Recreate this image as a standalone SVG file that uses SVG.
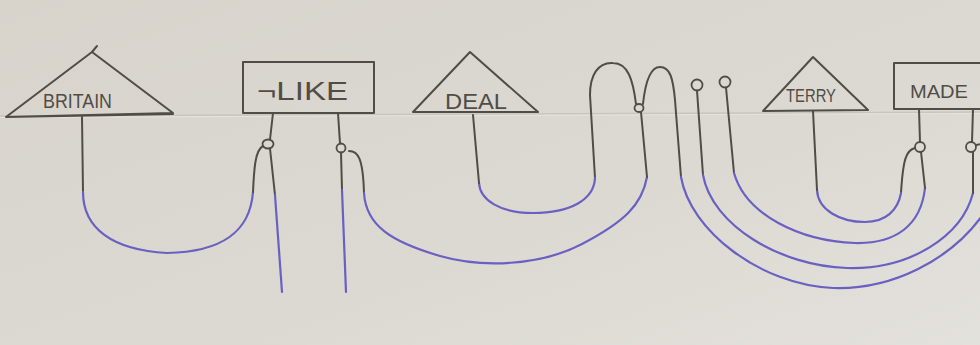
<svg xmlns="http://www.w3.org/2000/svg" width="980" height="345" viewBox="0 0 980 345">
<defs>
<linearGradient id="paper" x1="0" y1="0" x2="1" y2="1">
<stop offset="0" stop-color="#d8d4cc"/>
<stop offset="0.6" stop-color="#dcd9d2"/>
<stop offset="1" stop-color="#e3e1dc"/>
</linearGradient>
<style>
.pencil{fill:none;stroke:#514c47;stroke-width:2;stroke-linecap:round;stroke-linejoin:round}
.pen{fill:none;stroke:#6a60c2;stroke-width:2.2;stroke-linecap:round;stroke-linejoin:round}
.ring{fill:none;stroke:#514c47;stroke-width:1.8}
.lbl{font-family:"Liberation Sans","DejaVu Sans",sans-serif;fill:#514c47;font-weight:normal}
</style>
</defs>
<rect x="0" y="0" width="980" height="345" fill="url(#paper)"/>
<path d="M0,116 L980,112" stroke="#c9c5be" stroke-width="1.5" fill="none"/>
<path d="M0,117.5 L980,113.5" stroke="#e6e3de" stroke-width="1" fill="none"/>

<g id="britain">
<path class="pencil" d="M6,117 L92,52 L173,113 Z M6,117 L173,114"/>
<path class="pencil" d="M92,52 L97,46"/>
<text class="lbl" x="43" y="108" font-size="21" textLength="69" lengthAdjust="spacingAndGlyphs">BRITAIN</text>
</g>

<g id="not-like">
<rect class="pencil" x="243" y="62" width="131" height="51"/>
<text class="lbl" x="257" y="100" font-size="25" textLength="91" lengthAdjust="spacingAndGlyphs">¬LIKE</text>
</g>

<g id="deal">
<path class="pencil" d="M413,112 L470,52 L538,112 Z"/>
<text class="lbl" x="445" y="109" font-size="22" textLength="62" lengthAdjust="spacingAndGlyphs">DEAL</text>
</g>

<g id="terry">
<path class="pencil" d="M763,111 L813,57 L868,110 Z"/>
<text class="lbl" x="786" y="102" font-size="18" textLength="50" lengthAdjust="spacingAndGlyphs">TERRY</text>
</g>

<g id="made">
<path class="pencil" d="M984,63 L894,63 L894,109 L984,109"/>
<text class="lbl" x="910" y="98" font-size="19" textLength="58" lengthAdjust="spacingAndGlyphs">MADE</text>
</g>

<g id="connectors">
<path class="pencil" d="M82,117 L83,192"/>
<path class="pen" d="M83,192 C83,228 112,250 167,253 C222,252 250,232 253,192"/>
<path class="pencil" d="M253,192 C254,170 255,150 263,146"/>
<ellipse class="ring" cx="268" cy="144" rx="5.5" ry="4.5"/>
<path class="pencil" d="M273,113 L270,139.5"/>
<path class="pencil" d="M270,148.5 L275,195"/>
<path class="pen" d="M275,195 L282,292"/>
<path class="pencil" d="M338,113 L340,143.5"/>
<circle class="ring" cx="341" cy="148" r="4.5"/>
<path class="pencil" d="M341,152.5 L342,190"/>
<path class="pen" d="M342,190 L346,292"/>
<path class="pencil" d="M349,151 C358,151 363,158 364,193"/>
<path class="pen" d="M364,193 C366,226 392,242 440,256 C482,268 540,266 582,244 C624,222 642,205 647,177"/>
<path class="pencil" d="M647,177 L641,112"/>
<ellipse class="ring" cx="639" cy="108" rx="4.5" ry="4"/>
<path class="pencil" d="M636,104 C633,80 628,63 613,63 C598,62 590,75 590,95 L595,178"/>
<path class="pen" d="M595,178 C594,200 570,213 533,213 C500,213 480,200 479,183"/>
<path class="pencil" d="M479,183 L473,115"/>
<path class="pencil" d="M643,104 C645,85 650,67 660,67 C670,67 673,78 675,100 L681,177"/>
<path class="pen" d="M681,177 C690,230 760,285 833,288 C892,290 950,260 982,216"/>
<circle class="ring" cx="697" cy="85" r="5.5"/>
<path class="pencil" d="M697,90.5 L703,175"/>
<path class="pen" d="M703,175 C712,225 780,266 847,268 C910,270 962,236 973,193"/>
<path class="pencil" d="M973,193 L973,152"/>
<ellipse class="ring" cx="971" cy="147" rx="5" ry="5"/>
<path class="pencil" d="M972,142 L973,109"/>
<path class="pencil" d="M976,145 L981,144"/>
<circle class="ring" cx="725" cy="82" r="5.5"/>
<path class="pencil" d="M726,87.5 L734,173"/>
<path class="pen" d="M734,173 C746,215 800,241 855,243 C896,244 921,225 925,188"/>
<path class="pencil" d="M925,188 L921,152"/>
<ellipse class="ring" cx="920" cy="147" rx="5" ry="5"/>
<path class="pencil" d="M920,142 L919,109"/>
<path class="pencil" d="M915,148 C906,150 903,160 901,193"/>
<path class="pen" d="M901,193 C898,210 886,222 865,222 C840,222 818,210 817,190"/>
<path class="pencil" d="M817,190 L813,111"/>
</g>
</svg>
